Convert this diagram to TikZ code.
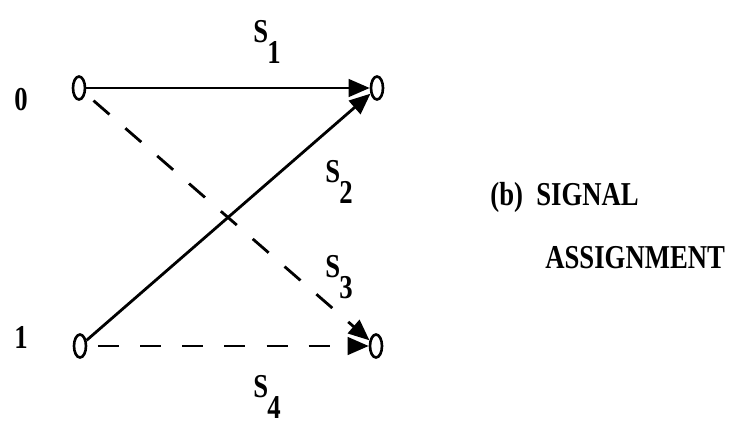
\documentclass[tikz,border=0pt]{standalone}
\usepackage{fontspec}
\setmainfont{Liberation Serif}[FakeStretch=0.8]
\usepackage{tikz}
\usetikzlibrary{arrows.meta, shapes.geometric}
\newcommand{\sig}[1]{S\kern-0.5pt\raisebox{-12pt}{#1}}

\begin{document}
\begin{tikzpicture}[
    port/.style={ellipse, draw, line width=1.5pt, minimum width=0.24cm,
      minimum height=0.46cm, inner sep=0pt},
    lvl/.style={font=\fontsize{19}{22}\selectfont\bfseries, inner sep=0pt},
    sg/.style={lvl, anchor=base west},
    wire/.style={line width=1.6pt, -{Triangle[length=12pt, width=10pt]}},
    dwire/.style={wire, dash pattern=on 12pt off 12pt, shorten <=6pt}
  ]
    \useasboundingbox (0,0) rectangle (14.7,8.56);
    \node[port] (a0) at (1.58, 6.80) {};
    \node[port] (b0) at (7.54, 6.80) {};
    \node[port] (a1) at (1.60, 1.64) {};
    \node[port] (b1) at (7.52, 1.64) {};
    \node[lvl] (l0) at (0.42, 6.56) {0};
    \node[lvl] (l1) at (0.42, 1.82) {1};
    \draw[wire] (a0) -- (b0);
    \draw[wire] (a1) -- (b0);
    \draw[dwire] (a0) -- (b1);
    \draw[dwire] (a1) -- (b1);
    \node[sg] (s1) at (5.06, 7.72) {\sig{1}};
    \node[sg] (s2) at (6.50, 4.92) {\sig{2}};
    \node[sg] (s3) at (6.50, 3.02) {\sig{3}};
    \node[sg] (s4) at (5.06, 0.62) {\sig{4}};
    \node[sg] (cap1) at (9.80, 4.46) {(b)\ \ SIGNAL};
    \node[sg] (cap2) at (10.90, 3.20) {ASSIGNMENT};
  \end{tikzpicture}
\end{document}
